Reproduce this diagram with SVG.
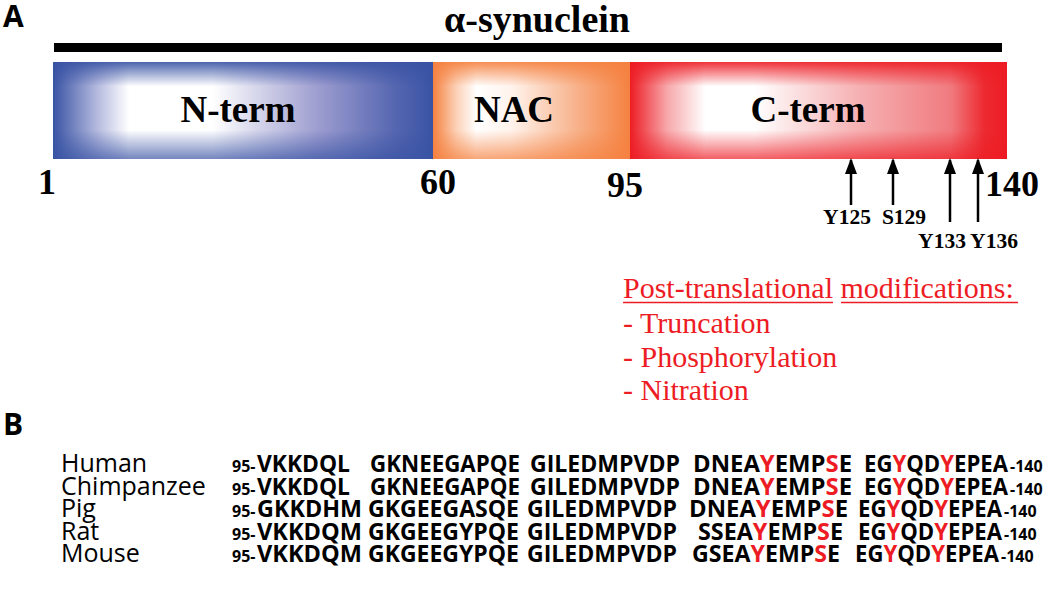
<svg xmlns="http://www.w3.org/2000/svg" width="1050" height="612" viewBox="0 0 1050 612">
<style>
.serifb{font-family:"Liberation Serif","Times New Roman",serif;font-weight:bold;fill:#000}
.ptm{font-family:"Liberation Serif","Times New Roman",serif;font-size:30px;fill:#ed1c24}
.panel{font-family:"Open Sans","Liberation Sans",sans-serif;font-weight:bold;font-size:30px;fill:#000}
.sp{font-family:"Open Sans","Liberation Sans",sans-serif;font-size:25px;fill:#000}
.seq{font-family:"Open Sans","Liberation Sans",sans-serif;font-weight:bold;font-size:24px;fill:#000}
.sm{font-family:"Open Sans","Liberation Sans",sans-serif;font-weight:bold;font-size:16px;fill:#000}
.r{fill:#ed1c24}
.arrow{stroke:#000;stroke-width:2.5;fill:none;marker-end:url(#ah)}
</style>
<defs>
<marker id="ah" viewBox="0 0 16 12" refX="14" refY="6" markerWidth="6.4" markerHeight="4.8" orient="auto" markerUnits="strokeWidth">
<path d="M0,0 L16,6 L0,12 Z" fill="#000"/>
</marker>
<linearGradient id="gNh" x1="0" x2="1" y1="0" y2="0">
<stop offset="0" stop-color="#3953a4"/>
<stop offset="0.12" stop-color="#b8bde0"/>
<stop offset="0.2" stop-color="#ffffff"/>
<stop offset="0.42" stop-color="#ffffff"/>
<stop offset="0.7" stop-color="#9c9ccf"/>
<stop offset="0.9" stop-color="#5566b0"/>
<stop offset="1" stop-color="#3953a4"/>
</linearGradient>
<linearGradient id="gNv" x1="0" x2="0" y1="0" y2="1">
<stop offset="0" stop-color="#3953a4" stop-opacity="0.9"/>
<stop offset="0.25" stop-color="#3953a4" stop-opacity="0"/>
<stop offset="0.7" stop-color="#3953a4" stop-opacity="0"/>
<stop offset="1" stop-color="#3953a4" stop-opacity="0.7"/>
</linearGradient>
<linearGradient id="gAh" x1="0" x2="1" y1="0" y2="0">
<stop offset="0" stop-color="#f58140"/>
<stop offset="0.12" stop-color="#fcd2b8"/>
<stop offset="0.22" stop-color="#ffffff"/>
<stop offset="0.4" stop-color="#fff3ec"/>
<stop offset="0.75" stop-color="#f7ae85"/>
<stop offset="1" stop-color="#f58140"/>
</linearGradient>
<linearGradient id="gAv" x1="0" x2="0" y1="0" y2="1">
<stop offset="0" stop-color="#f58140" stop-opacity="0.9"/>
<stop offset="0.25" stop-color="#f58140" stop-opacity="0"/>
<stop offset="0.7" stop-color="#f58140" stop-opacity="0"/>
<stop offset="1" stop-color="#f58140" stop-opacity="0.7"/>
</linearGradient>
<linearGradient id="gCh" x1="0" x2="1" y1="0" y2="0">
<stop offset="0" stop-color="#ed1c24"/>
<stop offset="0.1" stop-color="#f7a9ac"/>
<stop offset="0.2" stop-color="#ffffff"/>
<stop offset="0.33" stop-color="#ffffff"/>
<stop offset="0.6" stop-color="#f6b2b4"/>
<stop offset="0.85" stop-color="#f07b7f"/>
<stop offset="0.94" stop-color="#ed2a31"/>
<stop offset="1" stop-color="#ed1c24"/>
</linearGradient>
<linearGradient id="gCv" x1="0" x2="0" y1="0" y2="1">
<stop offset="0" stop-color="#ed1c24" stop-opacity="0.9"/>
<stop offset="0.25" stop-color="#ed1c24" stop-opacity="0"/>
<stop offset="0.7" stop-color="#ed1c24" stop-opacity="0"/>
<stop offset="1" stop-color="#ed1c24" stop-opacity="0.7"/>
</linearGradient>
</defs>
<rect width="1050" height="612" fill="#fff"/>

<g id="panelA-label"><text class="panel" x="3" y="27">A</text></g>
<g id="title">
<text class="serifb" x="537" y="32" font-size="38" text-anchor="middle">α-synuclein</text>
<rect x="54" y="43" width="948" height="9" fill="#000"/>
</g>

<g id="nterm">
<rect x="53" y="62" width="380" height="97" fill="url(#gNh)"/>
<rect x="53" y="62" width="380" height="97" fill="url(#gNv)"/>
<text class="serifb" x="238" y="122" font-size="37" text-anchor="middle">N-term</text>
</g>
<g id="nac">
<rect x="433" y="62" width="197" height="97" fill="url(#gAh)"/>
<rect x="433" y="62" width="197" height="97" fill="url(#gAv)"/>
<text class="serifb" x="514" y="122" font-size="37" text-anchor="middle">NAC</text>
</g>
<g id="cterm">
<rect x="630" y="62" width="377" height="97" fill="url(#gCh)"/>
<rect x="630" y="62" width="377" height="97" fill="url(#gCv)"/>
<text class="serifb" x="808" y="122" font-size="37" text-anchor="middle">C-term</text>
</g>

<g id="residue-numbers" class="serifb" font-size="36">
<text x="47" y="194" text-anchor="middle">1</text>
<text x="438" y="194" text-anchor="middle">60</text>
<text x="625" y="197" text-anchor="middle">95</text>
<text x="1012" y="196" text-anchor="middle">140</text>
</g>

<g id="connectors">
<line class="arrow" x1="851" y1="205" x2="851" y2="160"/>
<line class="arrow" x1="893" y1="205" x2="893" y2="160"/>
<line class="arrow" x1="950" y1="222" x2="950" y2="160"/>
<line class="arrow" x1="978" y1="222" x2="978" y2="160"/>
</g>

<g id="site-labels" class="serifb" font-size="21.5">
<text x="847" y="224" text-anchor="middle">Y125</text>
<text x="904" y="224" text-anchor="middle">S129</text>
<text x="942" y="248" text-anchor="middle">Y133</text>
<text x="994" y="248" text-anchor="middle">Y136</text>
</g>

<g id="ptm">
<text class="ptm" x="623" y="298">Post-translational modifications:</text>
<line x1="623" y1="302.5" x2="833" y2="302.5" stroke="#ed1c24" stroke-width="1.5"/>
<line x1="841" y1="302.5" x2="1018" y2="302.5" stroke="#ed1c24" stroke-width="1.5"/>
<text class="ptm" x="623" y="333">- Truncation</text>
<text class="ptm" x="623" y="367">- Phosphorylation</text>
<text class="ptm" x="623" y="400">- Nitration</text>
</g>

<g id="panelB-label"><text class="panel" x="3" y="435">B</text></g>

<g id="species" class="sp">
<text x="61" y="472">Human</text>
<text x="61" y="495">Chimpanzee</text>
<text x="61" y="517">Pig</text>
<text x="61" y="540">Rat</text>
<text x="61" y="562">Mouse</text>
</g>

<g id="seq-human">
<text class="sm" x="232" y="472">95-</text>
<text class="seq" x="257" y="472" textLength="93" lengthAdjust="spacingAndGlyphs">VKKDQL</text>
<text class="seq" x="370" y="472" textLength="150" lengthAdjust="spacingAndGlyphs">GKNEEGAPQE</text>
<text class="seq" x="530" y="472" textLength="150" lengthAdjust="spacingAndGlyphs">GILEDMPVDP</text>
<text class="seq" x="693" y="472" textLength="159" lengthAdjust="spacingAndGlyphs">DNEA<tspan class="r">Y</tspan>EMP<tspan class="r">S</tspan>E</text>
<text class="seq" x="864" y="472" textLength="144" lengthAdjust="spacingAndGlyphs">EG<tspan class="r">Y</tspan>QD<tspan class="r">Y</tspan>EPEA</text>
<text class="sm" x="1010" y="472">-140</text>
</g>
<g id="seq-chimpanzee">
<text class="sm" x="232" y="495">95-</text>
<text class="seq" x="257" y="495" textLength="93" lengthAdjust="spacingAndGlyphs">VKKDQL</text>
<text class="seq" x="370" y="495" textLength="150" lengthAdjust="spacingAndGlyphs">GKNEEGAPQE</text>
<text class="seq" x="530" y="495" textLength="150" lengthAdjust="spacingAndGlyphs">GILEDMPVDP</text>
<text class="seq" x="693" y="495" textLength="159" lengthAdjust="spacingAndGlyphs">DNEA<tspan class="r">Y</tspan>EMP<tspan class="r">S</tspan>E</text>
<text class="seq" x="864" y="495" textLength="144" lengthAdjust="spacingAndGlyphs">EG<tspan class="r">Y</tspan>QD<tspan class="r">Y</tspan>EPEA</text>
<text class="sm" x="1010" y="495">-140</text>
</g>
<g id="seq-pig">
<text class="sm" x="232" y="517">95-</text>
<text class="seq" x="257" y="517" textLength="105" lengthAdjust="spacingAndGlyphs">GKKDHM</text>
<text class="seq" x="368" y="517" textLength="151" lengthAdjust="spacingAndGlyphs">GKGEEGASQE</text>
<text class="seq" x="527" y="517" textLength="150" lengthAdjust="spacingAndGlyphs">GILEDMPVDP</text>
<text class="seq" x="689" y="517" textLength="159" lengthAdjust="spacingAndGlyphs">DNEA<tspan class="r">Y</tspan>EMP<tspan class="r">S</tspan>E</text>
<text class="seq" x="858" y="517" textLength="144" lengthAdjust="spacingAndGlyphs">EG<tspan class="r">Y</tspan>QD<tspan class="r">Y</tspan>EPEA</text>
<text class="sm" x="1004" y="517">-140</text>
</g>
<g id="seq-rat">
<text class="sm" x="232" y="540">95-</text>
<text class="seq" x="257" y="540" textLength="105" lengthAdjust="spacingAndGlyphs">VKKDQM</text>
<text class="seq" x="368" y="540" textLength="151" lengthAdjust="spacingAndGlyphs">GKGEEGYPQE</text>
<text class="seq" x="527" y="540" textLength="150" lengthAdjust="spacingAndGlyphs">GILEDMPVDP</text>
<text class="seq" x="698" y="540" textLength="145" lengthAdjust="spacingAndGlyphs">SSEA<tspan class="r">Y</tspan>EMP<tspan class="r">S</tspan>E</text>
<text class="seq" x="858" y="540" textLength="144" lengthAdjust="spacingAndGlyphs">EG<tspan class="r">Y</tspan>QD<tspan class="r">Y</tspan>EPEA</text>
<text class="sm" x="1004" y="540">-140</text>
</g>
<g id="seq-mouse">
<text class="sm" x="232" y="562">95-</text>
<text class="seq" x="257" y="562" textLength="105" lengthAdjust="spacingAndGlyphs">VKKDQM</text>
<text class="seq" x="368" y="562" textLength="151" lengthAdjust="spacingAndGlyphs">GKGEEGYPQE</text>
<text class="seq" x="527" y="562" textLength="150" lengthAdjust="spacingAndGlyphs">GILEDMPVDP</text>
<text class="seq" x="692" y="562" textLength="148" lengthAdjust="spacingAndGlyphs">GSEA<tspan class="r">Y</tspan>EMP<tspan class="r">S</tspan>E</text>
<text class="seq" x="855" y="562" textLength="144" lengthAdjust="spacingAndGlyphs">EG<tspan class="r">Y</tspan>QD<tspan class="r">Y</tspan>EPEA</text>
<text class="sm" x="1001" y="562">-140</text>
</g>
</svg>
